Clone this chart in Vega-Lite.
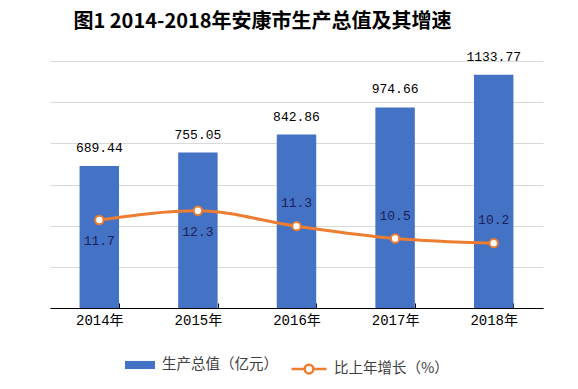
{
  "$schema": "https://vega.github.io/schema/vega-lite/v6.json",
  "width": 493,
  "height": 247,
  "autosize": {"type": "none"},
  "padding": {"left": 50, "top": 61, "right": 35, "bottom": 81},
  "background": "white",
  "title": {
    "text": "图1 2014-2018年安康市生产总值及其增速",
    "font": "Noto Sans CJK SC",
    "fontSize": 20,
    "fontWeight": "bold",
    "color": "#000000",
    "anchor": "middle",
    "dx": -34,
    "offset": 19
  },
  "data": {
    "values": [
      {"year": "2014年", "gdp": 689.44, "growth": 11.7},
      {"year": "2015年", "gdp": 755.05, "growth": 12.3},
      {"year": "2016年", "gdp": 842.86, "growth": 11.3},
      {"year": "2017年", "gdp": 974.66, "growth": 10.5},
      {"year": "2018年", "gdp": 1133.77, "growth": 10.2}
    ]
  },
  "encoding": {
    "x": {
      "field": "year",
      "type": "ordinal",
      "scale": {"paddingInner": 0.6, "paddingOuter": 0.3},
      "axis": {
        "title": null,
        "labelAngle": 0,
        "labelFont": "Liberation Mono, Noto Sans CJK SC",
        "labelFontSize": 14,
        "labelColor": "#000000",
        "labelPadding": 10,
        "domainColor": "#000000",
        "domainWidth": 1,
        "tickColor": "#000000",
        "tickBand": "extent",
        "tickSize": -5,
        "tickWidth": 1
      }
    }
  },
  "layer": [
    {
      "mark": {"type": "bar", "color": "#4472C4"},
      "encoding": {
        "y": {
          "field": "gdp",
          "type": "quantitative",
          "scale": {"domain": [0, 1200]},
          "axis": {
            "title": null,
            "labels": false,
            "ticks": false,
            "domain": false,
            "values": [0, 200, 400, 600, 800, 1000, 1200],
            "gridColor": "#d9d9d9",
            "gridWidth": 1
          }
        },
        "fill": {
          "datum": "生产总值（亿元）",
          "scale": {"range": ["#4472C4"]},
          "legend": {
            "title": null,
            "orient": "none",
            "legendX": 75,
            "legendY": 289,
            "symbolType": "M-1,-0.27H1V0.27H-1Z",
            "symbolSize": 900,
            "symbolStrokeWidth": 0,
            "labelFont": "Noto Sans CJK SC",
            "labelFontSize": 14.5,
            "labelColor": "#404040",
            "labelOffset": 7
          }
        }
      }
    },
    {
      "mark": {"type": "text", "baseline": "bottom", "dy": -11, "font": "Liberation Mono", "fontSize": 13, "color": "#000000"},
      "encoding": {
        "y": {"field": "gdp", "type": "quantitative", "scale": {"domain": [0, 1200]}, "axis": null},
        "text": {"field": "gdp", "type": "quantitative", "format": ".2f"}
      }
    },
    {
      "mark": {"type": "line", "interpolate": "monotone", "strokeWidth": 3, "color": "#ED7D31"},
      "encoding": {
        "y": {"field": "growth", "type": "quantitative", "scale": {"domain": [6, 22]}, "axis": null},
        "stroke": {
          "datum": "比上年增长（%）",
          "scale": {"range": ["#ED7D31"]},
          "legend": {
            "title": null,
            "orient": "none",
            "legendX": 240,
            "legendY": 289,
            "symbolType": "M-1,0H-0.25M0.25,0H1M0.25,0A0.25,0.25,0,1,1,-0.25,0A0.25,0.25,0,1,1,0.25,0",
            "symbolSize": 1225,
            "symbolStrokeWidth": 2.5,
            "symbolFillColor": "#ffffff",
            "labelFont": "Noto Sans CJK SC",
            "labelFontSize": 14.5,
            "labelColor": "#404040",
            "labelOffset": 6
          }
        }
      }
    },
    {
      "mark": {"type": "point", "filled": true, "fill": "#ffffff", "stroke": "#ED7D31", "strokeWidth": 2, "size": 70, "opacity": 1},
      "encoding": {
        "y": {"field": "growth", "type": "quantitative", "scale": {"domain": [6, 22]}, "axis": null}
      }
    },
    {
      "transform": [{"filter": "datum.year == '2014年' || datum.year == '2015年'"}],
      "mark": {"type": "text", "baseline": "middle", "dy": 21, "font": "Liberation Mono", "fontSize": 13, "color": "#1b1f5c"},
      "encoding": {
        "y": {"field": "growth", "type": "quantitative", "scale": {"domain": [6, 22]}, "axis": null},
        "text": {"field": "growth", "type": "quantitative", "format": ".1f"}
      }
    },
    {
      "transform": [{"filter": "datum.year != '2014年' && datum.year != '2015年'"}],
      "mark": {"type": "text", "baseline": "middle", "dy": -23, "font": "Liberation Mono", "fontSize": 13, "color": "#1b1f5c"},
      "encoding": {
        "y": {"field": "growth", "type": "quantitative", "scale": {"domain": [6, 22]}, "axis": null},
        "text": {"field": "growth", "type": "quantitative", "format": ".1f"}
      }
    }
  ],
  "resolve": {"scale": {"y": "independent"}},
  "config": {
    "view": {"stroke": null},
    "axis": {"gridColor": "#d9d9d9"}
  }
}
